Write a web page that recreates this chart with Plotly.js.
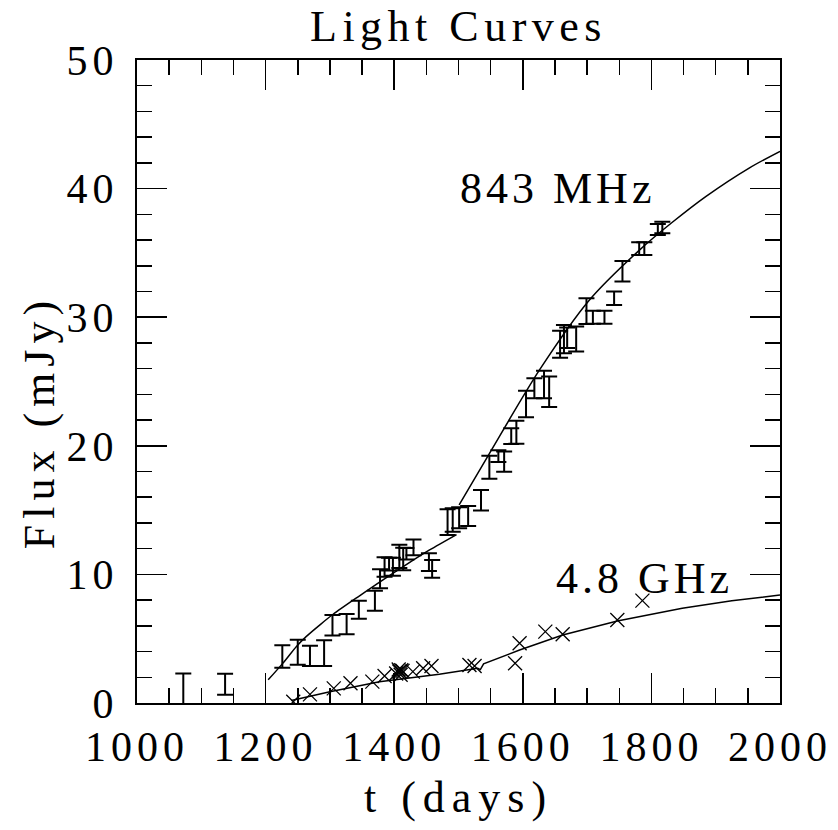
<!DOCTYPE html>
<html>
<head>
<meta charset="utf-8">
<script src="https://cdn.plot.ly/plotly-3.0.1.min.js"></script>
<style>
  html, body { margin: 0; padding: 0; background: #fff; }
  .main-svg text { letter-spacing: 4px; }
  .main-svg .xtick text, .main-svg .ytick text { letter-spacing: 5px; }
  .main-svg .gtitle { letter-spacing: 5.5px; }
  .main-svg .g-xtitle text { letter-spacing: 7px; }
  .main-svg .ytitle-ann text { letter-spacing: 6px; }
</style>
</head>
<body>
<div id="chart" style="width:838px;height:830px;"></div>
<script>
// 843 MHz measurements (days, mJy, 1-sigma error)
const t843 = [1072, 1137, 1226, 1250, 1269, 1291, 1304, 1326, 1345, 1370,
              1378, 1385, 1392, 1398, 1408, 1414, 1419, 1430, 1454, 1459,
              1483, 1491, 1501, 1515, 1535, 1548, 1562, 1571, 1582, 1590,
              1605, 1618, 1633, 1641, 1658, 1664, 1669, 1683, 1699, 1709,
              1727, 1742, 1755, 1781, 1789, 1810, 1817];
const f843 = [1.0, 1.46, 3.62, 3.95, 3.67, 3.88, 6.04, 6.13, 7.26, 7.95,
              9.66, 10.58, 10.8, 10.6, 11.4, 11.2, 11.6, 12.1, 10.95, 10.43,
              14.06, 14.23, 14.4, 14.54, 15.76, 18.33, 19.2, 18.77, 20.75, 21.05,
              23.25, 24.47, 24.77, 24.2, 27.9, 28.3, 28.4, 28.3, 30.47, 30.0,
              30.0, 31.47, 33.57, 35.33, 35.33, 36.82, 36.98];
const e843 = [1.3, 0.82, 0.87, 0.97, 0.79, 1.0, 0.8, 0.79, 0.7, 0.78,
              0.74, 0.76, 0.5, 0.7, 0.9, 0.88, 0.45, 0.62, 0.69, 0.69,
              1.0, 0.91, 0.82, 0.78, 0.8, 0.9, 0.45, 0.78, 0.61, 0.9,
              1.03, 0.78, 1.07, 1.19, 1.05, 1.1, 0.8, 0.97, 1.0, 0.5,
              0.5, 0.52, 0.8, 0.49, 0.49, 0.43, 0.45];

// 4.8 GHz measurements (days, mJy)
const t48 = [1243, 1269, 1306, 1332, 1366, 1385, 1403, 1407, 1408, 1410, 1411, 1413,
             1429, 1445, 1458, 1517, 1525, 1588, 1595, 1635, 1662, 1747, 1786];
const f48 = [0.1, 0.67, 1.14, 1.53, 1.66, 2.1, 2.3, 2.6, 2.45, 2.2, 2.55, 2.5,
             2.44, 2.7, 2.88, 2.95, 2.88, 3.09, 4.64, 5.55, 5.34, 6.45, 7.96];

// Model curves
const m843LoT = [1204, 1227, 1248, 1263, 1285, 1305, 1345, 1382, 1420, 1455, 1497];
const m843LoF = [1.8, 3.1, 4.4, 5.16, 6.1, 6.9, 8.3, 9.56, 10.8, 11.9, 13.1];
const m843HiT = [1501, 1548, 1626, 1703, 1781, 1833, 1885, 1952, 2000];
const m843HiF = [15.4, 19.4, 25.9, 31.3, 35.2, 37.4, 39.4, 41.6, 42.9];
const m48T = [1240, 1300, 1377, 1470, 1530, 1534, 1539, 1595, 1662, 1747, 1848, 1925, 2000];
const m48F = [0.2, 0.88, 1.66, 2.23, 2.7, 2.6, 3.05, 4.12, 5.29, 6.38, 7.36, 7.95, 8.4];

// Labels
const titleText = 'Light Curves';
const xTitle = 't (days)';
const yTitle = 'Flux (mJy)';
const label843 = '843 MHz';
const label48 = '4.8 GHz';

const FONT = 'Liberation Serif, DejaVu Serif, serif';
const BIG = 44;
const TICK = 42;

const traces = [
  {
    x: t843, y: f843, type: 'scatter', mode: 'markers',
    marker: {size: 2, color: 'rgba(0,0,0,0)'},
    error_y: {type: 'data', array: e843, visible: true, color: '#000', thickness: 2, width: 8},
    hoverinfo: 'skip', showlegend: false
  },
  {
    x: t48, y: f48, type: 'scatter', mode: 'markers',
    marker: {symbol: 'x-thin-open', size: 14, color: '#000', line: {color: '#000', width: 1.3}},
    showlegend: false
  },
  {
    x: m843LoT, y: m843LoF, type: 'scatter', mode: 'lines',
    line: {color: '#000', width: 1.5, shape: 'spline', smoothing: 0.8}, showlegend: false
  },
  {
    x: m843HiT, y: m843HiF, type: 'scatter', mode: 'lines',
    line: {color: '#000', width: 1.5, shape: 'spline', smoothing: 0.8}, showlegend: false
  },
  {
    x: m48T, y: m48F, type: 'scatter', mode: 'lines',
    line: {color: '#000', width: 1.5}, showlegend: false
  }
];

const axisCommon = {
  showgrid: false, zeroline: false,
  showline: true, linecolor: '#000', linewidth: 2, mirror: 'ticks',
  ticks: 'inside', ticklen: 30, tickwidth: 1.5, tickcolor: '#000',
  tickfont: {family: FONT, size: TICK, color: '#000'}
};

const layout = {
  width: 838, height: 830,
  margin: {l: 137, r: 58, t: 60, b: 127},
  paper_bgcolor: '#fff', plot_bgcolor: '#fff',
  title: {
    text: titleText, font: {family: FONT, size: BIG, color: '#000'},
    x: 0.5, xref: 'paper', xanchor: 'center',
    y: 1 - 26 / 830, yref: 'container', yanchor: 'middle'
  },
  xaxis: Object.assign({}, axisCommon, {
    range: [1000, 2000], tick0: 1000, dtick: 200,
    ticklabelstandoff: 6,
    minor: {dtick: 50, ticks: 'inside', ticklen: 15, tickwidth: 1.5, tickcolor: '#000'},
    title: {text: xTitle, font: {family: FONT, size: BIG, color: '#000'}, standoff: 12}
  }),
  yaxis: Object.assign({}, axisCommon, {
    range: [0, 50], tick0: 0, dtick: 10,
    ticklabelstandoff: 8,
    minor: {dtick: 2, ticks: 'inside', ticklen: 15, tickwidth: 1.5, tickcolor: '#000'}
  }),
  annotations: [
    {x: 1654, y: 40, xref: 'x', yref: 'y', text: label843, showarrow: false,
     font: {family: FONT, size: BIG, color: '#000'}, xanchor: 'center', yanchor: 'middle'},
    {x: 1790, y: 9.7, xref: 'x', yref: 'y', text: label48, showarrow: false,
     font: {family: FONT, size: BIG, color: '#000'}, xanchor: 'center', yanchor: 'middle'},
    {x: -0.152, y: 0.437, xref: 'paper', yref: 'paper', text: yTitle, showarrow: false,
     textangle: -90,
     font: {family: FONT, size: BIG, color: '#000'}, xanchor: 'center', yanchor: 'middle'}
  ]
};

Plotly.newPlot('chart', traces, layout, {staticPlot: true, displayModeBar: false}).then(function () {
  const anns = document.querySelectorAll('.annotation');
  if (anns.length) anns[anns.length - 1].classList.add('ytitle-ann');
});
</script>
</body>
</html>
